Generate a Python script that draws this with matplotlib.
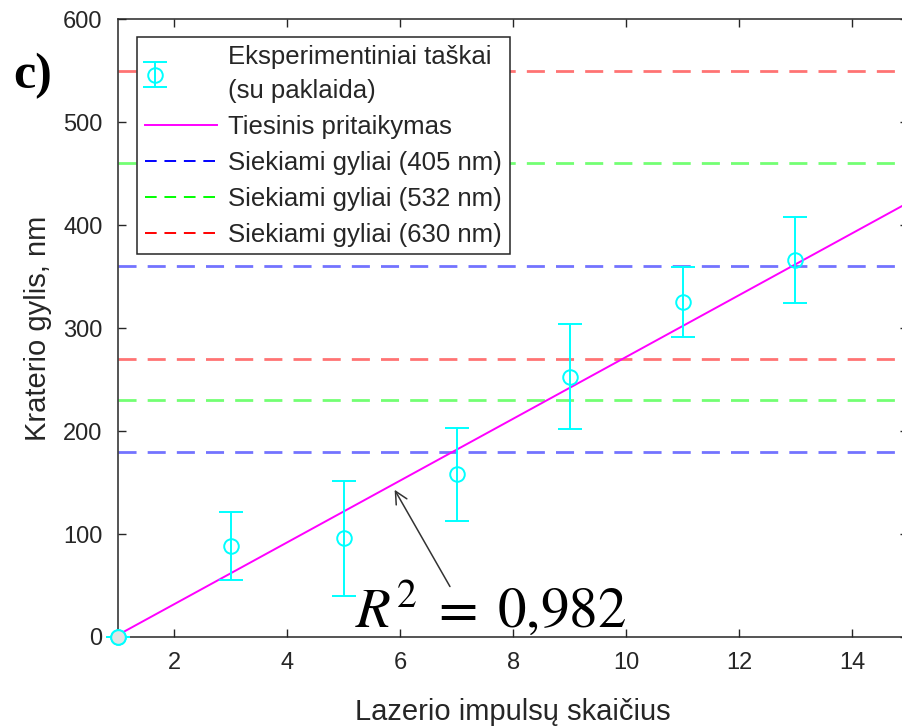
import matplotlib.pyplot as plt
from matplotlib.lines import Line2D
from matplotlib.legend_handler import HandlerErrorbar

# ---------------------------------------------------------------------------
# Data
# ---------------------------------------------------------------------------

pulses = [1, 3, 5, 7, 9, 11, 13]
depth = [0, 88, 96, 158, 253, 325, 366]
depth_err = [0, 33, 56, 45, 51, 34, 42]

fit_slope = 30.0
fit_intercept = -28.0
fit_x = [1, 15]
r_squared = "0,982"

targets_405 = [180, 360]
targets_532 = [230, 460]
targets_630 = [270, 550]

x_ticks = [2, 4, 6, 8, 10, 12, 14]
y_ticks = [0, 100, 200, 300, 400, 500, 600]

TEXT = "#262626"
plt.rcParams["font.family"] = ["Liberation Sans", "DejaVu Sans"]
plt.rcParams["mathtext.fontset"] = "stix"


class LeftErrorbarHandler(HandlerErrorbar):
    """Errorbar legend icon with the marker pushed to the left."""

    def get_xdata(self, legend, xdescent, ydescent, width, height, fontsize):
        xdata = [-xdescent, -xdescent + width]
        return xdata, [-xdescent + 0.15 * width]


fig = plt.figure(figsize=(9.02, 7.27), dpi=100)
ax = fig.add_axes([0.1308, 0.1238, 0.8763, 0.8497])

# ---- target depth lines ----
dash = (0, (6.5, 4))
for vals, col in ((targets_405, "#0000ff"), (targets_532, "#00ff00"),
                  (targets_630, "#ff0000")):
    for v in vals:
        ax.axhline(v, color=col, alpha=0.55, lw=2, linestyle=dash, zorder=1)

# ---- linear fit ----
fit_y = [fit_slope * x + fit_intercept for x in fit_x]
ax.plot(fit_x, fit_y, color="#ff00ff", lw=1.4, zorder=2)

# ---- measured points ----
eb = ax.errorbar(pulses, depth, yerr=depth_err, fmt="o", color="#00ffff",
                 mfc="none", mec="#00ffff", ms=10.5, mew=1.4, elinewidth=1.4,
                 capsize=8.5, capthick=1.4, zorder=3, clip_on=False)
# the first point sits on the axis and is drawn over it with a grey fill
ax.plot(pulses[:1], depth[:1], "o", mfc="#e4e4e4", mec="#00ffff", ms=10.5,
        mew=1.4, zorder=4, clip_on=False)

# ---- R^2 annotation ----
ax.annotate("", xy=(5.9, 143), xytext=(6.88, 49),
            arrowprops=dict(arrowstyle="->", color="#333333", lw=1.1,
                            mutation_scale=22, shrinkA=0, shrinkB=0))
ax.text(5.19, 9.7, rf"$R^2\;=\;{r_squared.replace(',', '{,}')}$",
        fontsize=41, color="black", ha="left", va="baseline", zorder=4)

# ---- axes ----
ax.set_xlim(1, 15)
ax.set_ylim(0, 600)
ax.set_xticks(x_ticks)
ax.set_yticks(y_ticks)
ax.tick_params(direction="in", top=True, right=True, length=6, width=1,
               labelsize=17, colors=TEXT, pad=11)
for sp in ax.spines.values():
    sp.set_color(TEXT)
    sp.set_linewidth(1.1)

ax.set_xlabel("Lazerio impulsų skaičius", fontsize=21, color=TEXT, labelpad=17)
ax.set_ylabel("Kraterio gylis, nm", fontsize=21, color=TEXT, labelpad=8)

# ---- legend ----
handles = [
    eb,
    Line2D([], [], color="#ff00ff", lw=1.4),
    Line2D([], [], color="#0000ff", lw=1.4, linestyle=(0, (6, 4))),
    Line2D([], [], color="#00ff00", lw=1.4, linestyle=(0, (6, 4))),
    Line2D([], [], color="#ff0000", lw=1.4, linestyle=(0, (6, 4))),
]
labels = [
    "Eksperimentiniai taškai\n(su paklaida)",
    "Tiesinis pritaikymas",
    "Siekiami gyliai (405 nm)",
    "Siekiami gyliai (532 nm)",
    "Siekiami gyliai (630 nm)",
]
leg = ax.legend(handles, labels, loc="upper left",
                bbox_to_anchor=(0.024, 0.971), borderaxespad=0,
                fontsize=18.5, frameon=True, fancybox=False, framealpha=1,
                edgecolor=TEXT, handlelength=2.8, handletextpad=0.45,
                labelspacing=0.46, borderpad=0.3,
                handler_map={type(eb): LeftErrorbarHandler()})
leg.get_frame().set_linewidth(1.1)
for t in leg.get_texts():
    t.set_color(TEXT)
leg.get_texts()[0].set_linespacing(1.55)

# ---- panel tag ----
fig.text(0.0145, 0.879, "c)", fontsize=36, fontweight="bold",
         family="Liberation Serif", ha="left", va="baseline")

fig.savefig("out.png", dpi=100, facecolor="white")
